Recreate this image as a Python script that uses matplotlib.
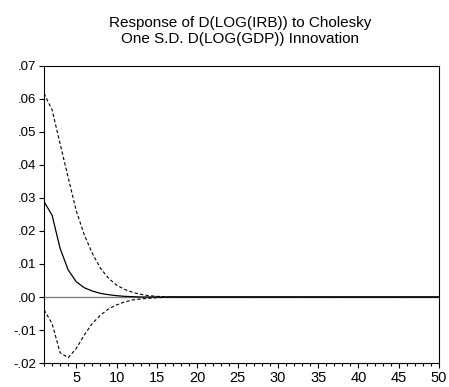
import matplotlib
matplotlib.use("Agg")
import matplotlib.pyplot as plt
from matplotlib.ticker import MultipleLocator, FuncFormatter

periods = list(range(1, 51))
response_head = [0.0289, 0.0248, 0.0147, 0.0082, 0.0046, 0.0028, 0.0018, 0.0011,
                 0.0007, 0.0004, 0.0002, 0.0001]
upper_head = [0.0617, 0.0567, 0.0464, 0.0362, 0.0261, 0.0188, 0.0132, 0.0087,
              0.0057, 0.0036, 0.0023, 0.0014, 0.0008, 0.0004, 0.0002, 0.0001]
lower_head = [-0.0039, -0.0080, -0.0169, -0.0184, -0.0156, -0.0115, -0.0080, -0.0055,
              -0.0036, -0.0024, -0.0015, -0.0009, -0.0006, -0.0004, -0.0002, -0.0001]
response = response_head + [0.0] * (50 - len(response_head))
upper = upper_head + [0.0] * (50 - len(upper_head))
lower = lower_head + [0.0] * (50 - len(lower_head))

title = "Response of D(LOG(IRB)) to Cholesky\nOne S.D. D(LOG(GDP)) Innovation"

plt.rcParams['font.family'] = ['Liberation Sans', 'DejaVu Sans']
fig = plt.figure(figsize=(4.49, 3.87), dpi=100)
ax = fig.add_axes([0.098, 0.062, 0.880, 0.7675])

ax.axhline(0, color='#808080', lw=1.0, zorder=1)
ax.plot(periods, response, color='black', lw=0.9, zorder=3)
ax.plot(periods, upper, color='black', lw=0.8, ls=(0, (3, 2)), zorder=3)
ax.plot(periods, lower, color='black', lw=0.8, ls=(0, (3, 2)), zorder=3)

ax.set_xlim(1, 50)
ax.set_ylim(-0.02, 0.07)
ax.xaxis.set_major_locator(MultipleLocator(5))
ax.xaxis.set_minor_locator(MultipleLocator(1))
ax.yaxis.set_major_locator(MultipleLocator(0.01))

def yfmt(v, pos):
    s = f"{v:.2f}"
    s = s.replace("0.", ".", 1)
    if s == "-.00":
        s = ".00"
    return s

ax.yaxis.set_major_formatter(FuncFormatter(yfmt))
ax.xaxis.set_major_formatter(FuncFormatter(lambda v, p: f"{int(round(v))}" if v >= 5 else ""))
ax.tick_params(axis='both', which='major', direction='out', length=3.6, width=0.8,
               top=False, right=False)
ax.tick_params(axis='x', which='major', labelsize=10.5, pad=2.5)
ax.tick_params(axis='y', which='major', labelsize=9.5, pad=2)
ax.tick_params(axis='x', which='minor', direction='out', length=2, width=0.8)
for s in ax.spines.values():
    s.set_linewidth(0.8)

fig.text(0.535, 0.920, title, ha='center', va='center', fontsize=11, linespacing=1.15)

fig.savefig("out.png", dpi=100)
